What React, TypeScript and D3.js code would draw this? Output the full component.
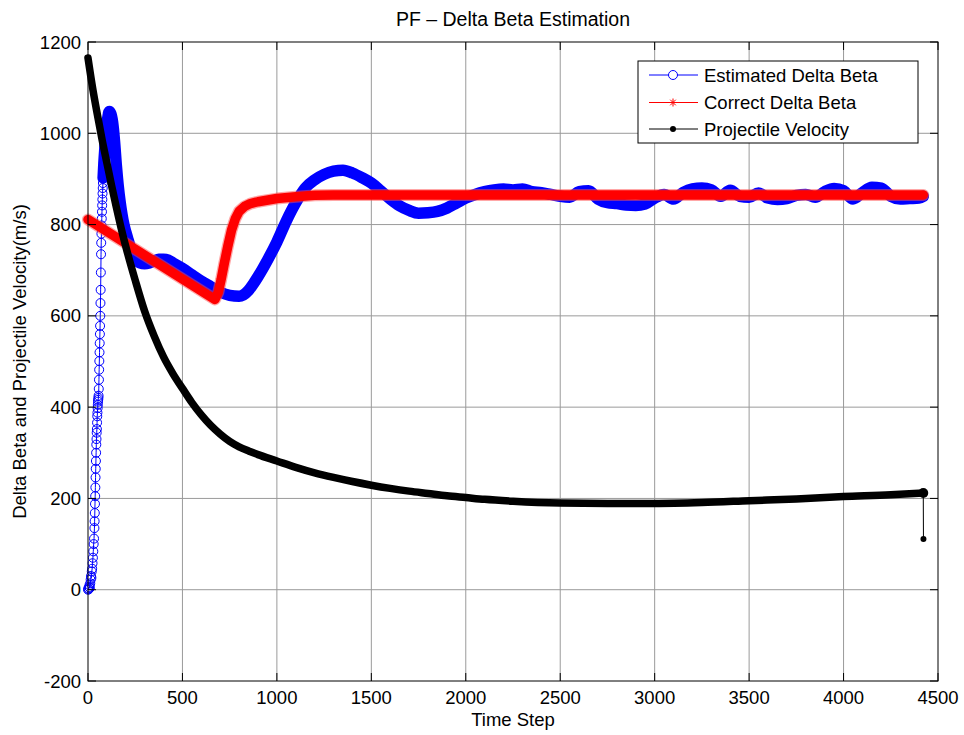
import React from "react";
import * as d3 from "d3";

// ---------- data ----------
const xTicks = [0, 500, 1000, 1500, 2000, 2500, 3000, 3500, 4000, 4500];
const yTicks = [-200, 0, 200, 400, 600, 800, 1000, 1200];

// Estimated Delta Beta
const estT = [
  0, 2, 4, 6, 8, 10, 12, 14, 16, 18, 20, 22, 24, 26, 28, 30, 32,
  34, 35, 36, 37, 38, 39, 40, 41, 42, 43, 44, 45, 46, 47, 48, 49, 50, 51, 52, 53, 54, 55, 56, 57,
  58, 59, 60, 61, 62, 63, 64, 65, 66, 67, 68, 69, 70, 71, 72, 73, 74, 75, 76, 77, 78, 79, 80,
  84, 88, 92, 96, 100, 104, 108, 112,
  120, 130, 140, 150, 160, 170, 180, 190, 200, 210, 220, 230, 240, 250,
  275, 300, 325, 350, 375, 400, 425, 450, 500, 550, 600, 650, 700, 750, 800, 850, 875,
  900, 950, 1000, 1050, 1100, 1150, 1200, 1250, 1300, 1350, 1400, 1450, 1500, 1550, 1600,
  1650, 1700, 1750, 1800, 1850, 1900, 1950, 2000, 2050, 2100, 2150, 2200, 2250, 2300, 2350,
  2400, 2450, 2500, 2550, 2600, 2650, 2700, 2750, 2800, 2850, 2900, 2950, 3000, 3050, 3100,
  3150, 3200, 3250, 3300, 3350, 3400, 3450, 3500, 3550, 3600, 3650, 3700, 3750, 3800, 3850,
  3900, 3950, 4000, 4050, 4100, 4150, 4200, 4250, 4300, 4350, 4400, 4422,
];
const estV = [
  0, 3, 1, 6, 10, 4, 14, 22, 30, 26, 40, 46, 58, 70, 84, 100, 112,
  135, 150, 168, 188, 205, 224, 246, 265, 282, 300, 318, 330, 344, 352, 366, 380, 388, 398, 405, 412, 416, 420, 425, 440,
  460, 482, 501, 520, 540, 560, 578, 600, 628, 657, 695, 735, 760, 780, 798, 813, 828, 842, 855, 868, 880, 891, 902,
  935, 960, 985, 1005, 1020, 1032, 1042, 1048,
  1044, 1025, 985, 930, 885, 850, 822, 800, 784, 770, 756, 744, 734, 726,
  716, 714, 716, 720, 724, 724, 722, 716, 704, 690, 676, 664, 652, 645, 643, 656, 670,
  686, 722, 762, 808, 848, 880, 898, 910, 917, 919, 913, 903, 891, 874, 856,
  841, 831, 825, 826, 829, 836, 847, 858, 866, 872, 876, 878, 876, 878, 872,
  870, 866, 862, 860, 872, 874, 856, 848, 846, 843, 842, 845, 858, 866, 856,
  870, 878, 880, 876, 862, 875, 862, 860, 869, 858, 855, 857, 864, 866, 860,
  872, 879, 874, 856, 870, 882, 880, 862, 856, 857, 858, 862,
];

// Correct Delta Beta
const corT = [0, 672, 690, 705, 720, 740, 760, 780, 800, 830, 860, 900, 1000, 1100, 1200, 1300, 4422];
const corV = [811, 636, 652, 680, 712, 752, 788, 813, 829, 840, 846, 850, 857, 861, 864, 865, 865];

// Projectile Velocity
const velT = [
  0, 25, 50, 75, 100, 125, 150, 175, 200, 250, 300, 350, 400, 450, 500, 550, 600, 650, 700,
  750, 800, 850, 900, 1000, 1100, 1200, 1300, 1400, 1500, 1600, 1700, 1800, 1900, 2000, 2100,
  2250, 2500, 2750, 3000, 3250, 3500, 3750, 4000, 4250, 4422, 4423,
];
const velV = [
  1165, 1098, 1040, 985, 935, 885, 838, 793, 752, 678, 610, 556, 510, 473, 441, 410, 383, 360, 341,
  325, 313, 304, 296, 282, 268, 256, 246, 237, 229, 222, 216, 211, 206, 202, 198,
  194, 190, 189, 189, 191, 195, 199, 204, 208, 212, 111,
];

const legendItems = ["Estimated Delta Beta", "Correct Delta Beta", "Projectile Velocity"];

// ---------- layout ----------
const W = 964, H = 735;
const L = 88, R = 938, T = 42, B = 681;
const FONT = "'Liberation Sans', Arial, Helvetica, sans-serif";

export default function App() {
  const x = d3.scaleLinear().domain([0, 4500]).range([L, R]);
  const y = d3.scaleLinear().domain([-200, 1200]).range([B, T]);

  const est = estT.map((t, i) => [t, estV[i]] as [number, number]);
  const cor = corT.map((t, i) => [t, corV[i]] as [number, number]);
  const vel = velT.map((t, i) => [t, velV[i]] as [number, number]);

  const line = d3.line<[number, number]>().x((d) => x(d[0])).y((d) => y(d[1]));
  const smooth = d3
    .line<[number, number]>()
    .x((d) => x(d[0]))
    .y((d) => y(d[1]))
    .curve(d3.curveMonotoneX);

  const estDense = est.filter((d) => d[0] >= 80);
  const estSparse = est.filter((d) => d[0] <= 112);
  const velMain = vel.slice(0, vel.length - 1);
  const velLast = vel[vel.length - 2];
  const velEnd = vel[vel.length - 1];

  const tickLen = 8;

  const star = (cx: number, cy: number, r: number, key: string) => (
    <g key={key} stroke="#ff0000" strokeWidth={1}>
      <line x1={cx - r} y1={cy} x2={cx + r} y2={cy} />
      <line x1={cx} y1={cy - r} x2={cx} y2={cy + r} />
      <line x1={cx - r * 0.7} y1={cy - r * 0.7} x2={cx + r * 0.7} y2={cy + r * 0.7} />
      <line x1={cx - r * 0.7} y1={cy + r * 0.7} x2={cx + r * 0.7} y2={cy - r * 0.7} />
    </g>
  );

  const legX = 638, legY = 61, legW = 280, legH = 82;
  const rowY = [75, 102.5, 129];

  return (
    <svg
      width={W}
      height={H}
      style={{ position: "absolute", left: 0, top: 0, background: "#fff" }}
      fontFamily={FONT}
    >
      <rect x={0} y={0} width={W} height={H} fill="#fff" />
      <rect x={L} y={T} width={R - L} height={B - T} fill="#fff" />

      {/* grid */}
      <g stroke="#9a9a9a" strokeWidth={1}>
        {xTicks.slice(1, -1).map((t) => (
          <line key={"gx" + t} x1={x(t)} x2={x(t)} y1={T} y2={B} />
        ))}
        {yTicks.slice(1, -1).map((t) => (
          <line key={"gy" + t} x1={L} x2={R} y1={y(t)} y2={y(t)} />
        ))}
      </g>

      {/* Estimated Delta Beta */}
      <path d={line(est) || ""} fill="none" stroke="#0000ff" strokeWidth={1} />
      <path
        d={smooth(estDense) || ""}
        fill="none"
        stroke="#0000ff"
        strokeWidth={11.5}
        strokeLinejoin="round"
        strokeLinecap="round"
      />
      {estSparse.map((d, i) => (
        <circle key={"ec" + i} cx={x(d[0])} cy={y(d[1])} r={4.5} fill="none" stroke="#0000ff" strokeWidth={1} />
      ))}

      {/* Correct Delta Beta */}
      <path
        d={line(cor) || ""}
        fill="none"
        stroke="#ff5050"
        strokeOpacity={0.5}
        strokeWidth={12}
        strokeLinejoin="round"
        strokeLinecap="round"
      />
      <path
        d={line(cor) || ""}
        fill="none"
        stroke="#ff0000"
        strokeWidth={9.5}
        strokeLinejoin="round"
        strokeLinecap="round"
      />

      {/* Projectile Velocity */}
      <path
        d={smooth(velMain) || ""}
        fill="none"
        stroke="#000"
        strokeWidth={7.5}
        strokeLinejoin="round"
        strokeLinecap="round"
      />
      <circle cx={x(velLast[0])} cy={y(velLast[1])} r={5} fill="#000" />
      <line x1={x(velLast[0])} y1={y(velLast[1])} x2={x(velEnd[0])} y2={y(velEnd[1])} stroke="#000" strokeWidth={1} />
      <circle cx={x(velEnd[0])} cy={y(velEnd[1])} r={3} fill="#000" />

      {/* axes box */}
      <rect x={L} y={T} width={R - L} height={B - T} fill="none" stroke="#000" strokeWidth={1} />
      <g stroke="#000" strokeWidth={1}>
        {xTicks.map((t) => (
          <g key={"tx" + t}>
            <line x1={x(t)} x2={x(t)} y1={B} y2={B - tickLen} />
            <line x1={x(t)} x2={x(t)} y1={T} y2={T + tickLen} />
          </g>
        ))}
        {yTicks.map((t) => (
          <g key={"ty" + t}>
            <line x1={L} x2={L + tickLen} y1={y(t)} y2={y(t)} />
            <line x1={R} x2={R - tickLen} y1={y(t)} y2={y(t)} />
          </g>
        ))}
      </g>

      {/* tick labels */}
      <g fontSize={18.5} fill="#000">
        {xTicks.map((t) => (
          <text key={"lx" + t} x={x(t)} y={704} textAnchor="middle">
            {t}
          </text>
        ))}
        {yTicks.map((t) => (
          <text key={"ly" + t} x={81} y={y(t) + 6.5} textAnchor="end">
            {t}
          </text>
        ))}
      </g>

      {/* title & labels */}
      <text x={(L + R) / 2} y={26} textAnchor="middle" fontSize={19.5}>
        PF – Delta Beta Estimation
      </text>
      <text x={(L + R) / 2} y={726} textAnchor="middle" fontSize={18.5}>
        Time Step
      </text>
      <text
        transform={`translate(26, ${(T + B) / 2}) rotate(-90)`}
        textAnchor="middle"
        fontSize={18.5}
      >
        Delta Beta and Projectile Velocity(m/s)
      </text>

      {/* legend */}
      <rect x={legX} y={legY} width={legW} height={legH} fill="#fff" stroke="#000" strokeWidth={1} />
      <line x1={649} x2={698} y1={rowY[0]} y2={rowY[0]} stroke="#0000ff" strokeWidth={1} />
      <circle cx={673} cy={rowY[0]} r={4.5} fill="#fff" stroke="#0000ff" strokeWidth={1} />
      <line x1={649} x2={698} y1={rowY[1]} y2={rowY[1]} stroke="#ff0000" strokeWidth={1} />
      {star(673, rowY[1], 4, "ls")}
      <line x1={649} x2={698} y1={rowY[2]} y2={rowY[2]} stroke="#000" strokeWidth={1} />
      <circle cx={673} cy={rowY[2]} r={3} fill="#000" />
      <g fontSize={18.5} fill="#000">
        {legendItems.map((s, i) => (
          <text key={s} x={704} y={rowY[i] + 6.5}>
            {s}
          </text>
        ))}
      </g>
    </svg>
  );
}
